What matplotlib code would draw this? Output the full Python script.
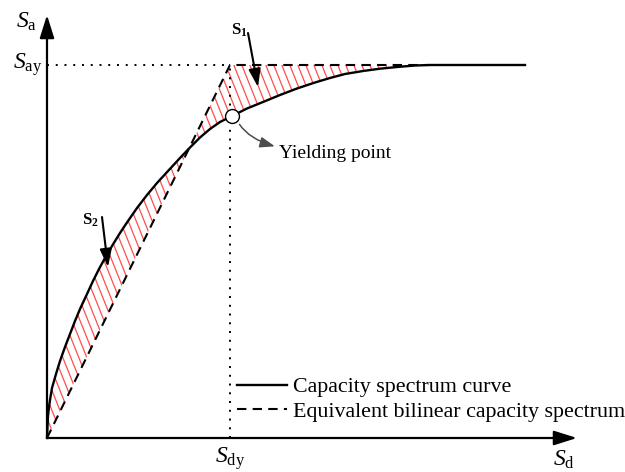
import numpy as np
import matplotlib
matplotlib.use('Agg')
import matplotlib.pyplot as plt
from matplotlib.collections import LineCollection

plt.rcParams['font.family'] = ['Liberation Serif', 'DejaVu Serif']
plt.rcParams['mathtext.fontset'] = 'custom'
plt.rcParams['mathtext.rm'] = 'Liberation Serif'
plt.rcParams['mathtext.it'] = 'Liberation Serif:italic'
plt.rcParams['mathtext.bf'] = 'Liberation Serif:bold'

# capacity spectrum curve (Sd, Sa in arbitrary units)
sd = [0, 0.5, 1, 2, 3, 5, 9, 13, 18, 23, 28, 33, 40, 46, 52, 58, 65, 73, 81, 90,
      100, 110, 121, 133, 143, 153, 163, 173, 185, 200, 216, 233, 250, 268, 283,
      298, 316, 333, 350, 368, 383, 478]
sa = [0, 12, 22, 31, 38, 50, 64, 77, 91, 104, 117, 129, 144, 157, 169, 180, 192, 205, 217, 230,
      243, 255, 267, 280, 290.5, 300.5, 309, 316, 322, 329.5, 336, 343, 349.5, 355.5, 360,
      364, 367, 369.3, 371, 372.5, 373, 373]

# equivalent bilinear spectrum
sdy = 183
say = 373
bil_end = 383

sd = np.array(sd, dtype=float)
sa = np.array(sa, dtype=float)
bil = np.minimum(say / sdy * sd, say)

fig = plt.figure(figsize=(6.25, 4.72), dpi=100)
ax = fig.add_axes([0, 0, 1, 1])
ax.set_xlim(-47, 578)
ax.set_ylim(-34, 438)
ax.axis('off')

# hatched areas S1 / S2 (steep red hatch clipped to the region between the curves)
area = ax.fill_between(sd, bil, sa, where=sd <= bil_end, interpolate=True,
                       facecolor='none', edgecolor='none', linewidth=0)
ytop, ybot, k = 400, -10, 0.4
segs = [[(x0, ytop), (x0 + k * (ytop - ybot), ybot)] for x0 in np.arange(-200, 420, 8)]
for p in area.get_paths():
    lc = LineCollection(segs, colors='#ff4d4d', linewidths=0.9)
    ax.add_collection(lc)
    lc.set_clip_path(p, ax.transData)

line1, = ax.plot(sd, sa, color='k', lw=1.7, label='Capacity spectrum curve')
line2, = ax.plot([0, sdy, bil_end], [0, say, say], color='k', lw=1.5,
                 linestyle=(0, (4.5, 3)), label='Equivalent bilinear capacity spectrum')

# dotted guides
ax.plot([0, sdy], [say, say], color='k', lw=1.4, linestyle=(0, (1, 3.5)))
ax.plot([sdy, sdy], [0, say], color='k', lw=1.4, linestyle=(0, (1, 3.5)))

# axes with arrows
arr = dict(arrowstyle='-|>,head_length=0.7,head_width=0.22', color='k', lw=1.6,
           mutation_scale=20, shrinkA=0, shrinkB=0)
ax.annotate('', xy=(0, 423), xytext=(0, 0), arrowprops=arr)
ax.annotate('', xy=(530, 0), xytext=(0, 0), arrowprops=arr)

ax.text(-21, 416, r'$S_{\mathrm{a}}$', fontsize=17, ha='center', va='center')
ax.text(-19, 373, r'$S_{\mathrm{ay}}$', fontsize=17, ha='center', va='center')
ax.text(183, -21, r'$S_{\mathrm{dy}}$', fontsize=17, ha='center', va='center')
ax.text(517, -22, r'$S_{\mathrm{d}}$', fontsize=17, ha='center', va='center')

# S1 / S2 markers
sarr = dict(arrowstyle='-|>,head_length=0.6,head_width=0.2', color='k', lw=1.5,
            mutation_scale=18, shrinkA=0, shrinkB=0)
ax.text(192, 408, r'$\mathbf{S}_{\mathbf{1}}$', fontsize=12, ha='center', va='center')
ax.annotate('', xy=(211, 351), xytext=(201, 405), arrowprops=sarr)
ax.text(43, 218, r'$\mathbf{S}_{\mathbf{2}}$', fontsize=12, ha='center', va='center')
ax.annotate('', xy=(61, 171), xytext=(55, 221), arrowprops=sarr)

# yielding point
ax.plot([sdy + 2], [322], marker='o', markersize=10, mfc='white', mec='k', mew=1.0, zorder=5)
ax.annotate('Yielding point', xy=(191, 316), xytext=(232, 285), fontsize=14,
            ha='left', va='center',
            arrowprops=dict(arrowstyle='<|-,head_length=0.5,head_width=0.18', color='0.3',
                            lw=1.1, mutation_scale=18, shrinkA=1, shrinkB=2,
                            connectionstyle='angle3,angleA=0,angleB=-60'))

ax.legend(handles=[line1, line2], loc='upper left', bbox_to_anchor=(190, 61),
          bbox_transform=ax.transData, frameon=False, fontsize=15.8, borderpad=0,
          borderaxespad=0, handlelength=2.3, handletextpad=0.25, labelspacing=0.2)

fig.savefig('out.png', dpi=100)
